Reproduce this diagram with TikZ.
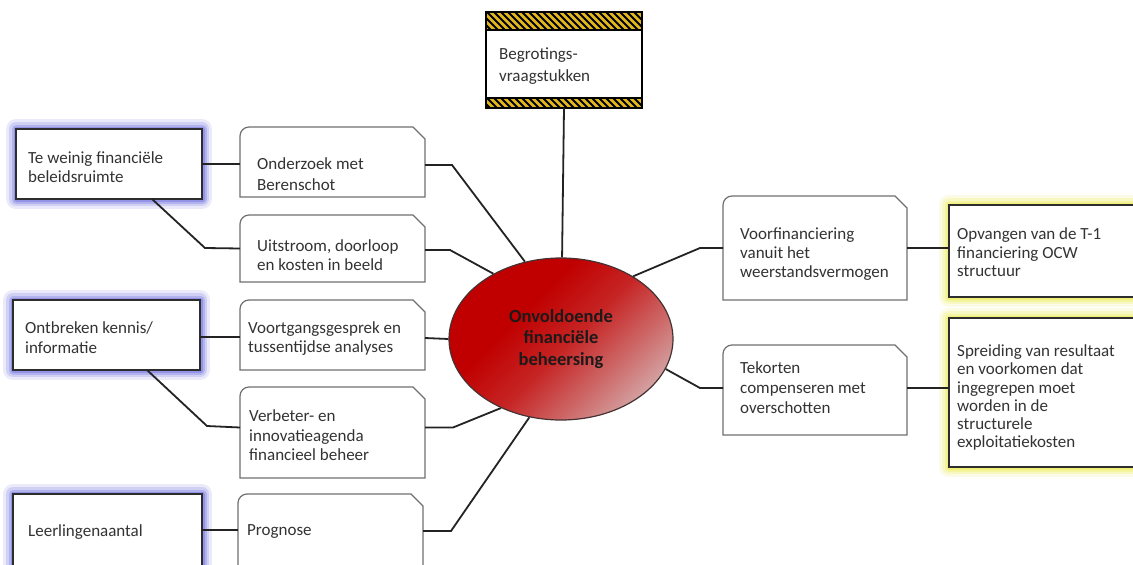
\documentclass[tikz,border=0pt]{standalone}
\usepackage{fontspec}
\setmainfont{Carlito}
\usetikzlibrary{shapes.geometric,calc}
\definecolor{txtc}{RGB}{51,51,51}
\definecolor{bordA}{RGB}{45,45,45}
\definecolor{docc}{RGB}{112,112,112}
\definecolor{connc}{RGB}{35,35,35}
\definecolor{glowB}{RGB}{90,90,220}
\definecolor{glowY}{RGB}{235,235,50}
\definecolor{hazy}{RGB}{226,182,30}
\definecolor{ellb}{RGB}{70,50,50}
\definecolor{ctxt}{RGB}{30,25,25}
\definecolor{rA}{RGB}{192,0,0}
\definecolor{rB}{RGB}{198,36,36}
\definecolor{rC}{RGB}{206,110,110}
\definecolor{rD}{RGB}{216,196,196}
\definecolor{rE}{RGB}{222,216,216}
\pgfdeclarehorizontalshading{ellred}{100bp}{color(0bp)=(rA); color(38bp)=(rA); color(52bp)=(rB); color(66bp)=(rC); color(82bp)=(rD); color(100bp)=(rE)}
\newcommand\fs{\rule{0pt}{12.5pt}}
\newcommand\docshape[1]{\draw[docline] (#1.south west) -- ([yshift=-9pt]#1.north west) arc[start angle=180,end angle=90,radius=9pt] -- ([xshift=-12pt]#1.north east) -- ([yshift=-12pt]#1.north east) -- (#1.south east) -- cycle;}
\tikzset{
  glow/.style={
    preaction={draw=#1, draw opacity=.12, line width=20pt, line join=round},
    preaction={draw=#1, draw opacity=.18, line width=14pt, line join=round},
    preaction={draw=#1, draw opacity=.25, line width=9pt, line join=round},
    preaction={draw=#1, draw opacity=.35, line width=5pt, line join=round}},
  box/.style={rectangle, inner sep=0pt, outer sep=0pt},
  bluebox/.style={box, draw=bordA, line width=1.3pt, fill=white, glow=glowB},
  yelbox/.style={box, draw=bordA, line width=1.2pt, fill=white, glow=glowY},
  docline/.style={draw=docc, line width=1.2pt, fill=white},
  txt/.style={font=\fontsize{17}{#1}\selectfont, align=left, inner sep=0pt, text=txtc, anchor=north west},
  txt/.default=18.5,
  conn/.style={draw=connc, line width=1.8pt},
}
\begin{document}
\begin{tikzpicture}[x=1pt,y=-1pt]
\useasboundingbox (0,0) rectangle (1133,565);
\fill[white] (0,0) rectangle (1133,565);

% top box with hazard bands
\node[box, draw=black, line width=1.3pt, fill=white, minimum width=156pt, minimum height=96pt] (t) at (564,60) {};
\begin{scope}
  \clip (t.north west) rectangle ([yshift=-18pt]t.north east);
  \fill[hazy] (t.north west) rectangle ([yshift=-18pt]t.north east);
  \foreach \k in {0,...,27} \draw[black, line width=1.9pt] ($(t.north west)+(\k*7-20,0)$) -- ++(18,18);
\end{scope}
\begin{scope}
  \clip ([yshift=10pt]t.south west) rectangle (t.south east);
  \fill[hazy] ([yshift=10pt]t.south west) rectangle (t.south east);
  \foreach \k in {0,...,27} \draw[black, line width=1.9pt] ($(t.south west)+(\k*7-20,-10)$) -- ++(10,10);
\end{scope}
\draw[black, line width=1.3pt] (t.north west) rectangle (t.south east);
\draw[black, line width=1.1pt] ([yshift=-18pt]t.north west) -- ([yshift=-18pt]t.north east);
\draw[black, line width=1.1pt] ([yshift=10pt]t.south west) -- ([yshift=10pt]t.south east);
\node[txt={22}] (tt) at (499,46.5) {\fs Begrotings-\\vraagstukken};

% centre ellipse
\node[ellipse, minimum width=224pt, minimum height=162pt, inner sep=0pt, draw=ellb, line width=1.2pt,
      shade, shading=ellred, shading angle=-45, align=center, text=ctxt,
      font=\bfseries\fontsize{18.5}{21.7}\selectfont] (c) at (561,339) {Onvoldoende\\financiële\\beheersing};

% left blue boxes
\node[bluebox, minimum width=186pt, minimum height=70pt] (b1) at (109,164) {};
\node[txt={18.3}] (b1t) at (28,151) {\fs Te weinig financiële\\beleidsruimte};
\node[bluebox, minimum width=187pt, minimum height=70pt] (b2) at (106.5,335) {};
\node[txt={20}] (b2t) at (25,321) {\fs Ontbreken kennis/\\informatie};
\node[bluebox, minimum width=189pt, minimum height=80pt] (b3) at (107.5,534) {};
\node[txt] (b3t) at (28,524) {\fs Leerlingenaantal};

% document boxes left
\node[box, minimum width=185pt, minimum height=70pt] (d1) at (332.5,162) {};
\docshape{d1}
\node[txt={20.7}] (d1t) at (257,157) {\fs Onderzoek met\\Berenschot};
\node[box, minimum width=185pt, minimum height=67pt] (d2) at (332.5,248.5) {};
\docshape{d2}
\node[txt={18.3}] (d2t) at (257,239) {\fs Uitstroom, doorloop\\en kosten in beeld};
\node[box, minimum width=185pt, minimum height=70pt] (d3) at (332.5,335) {};
\docshape{d3}
\node[txt={18.5}] (d3t) at (248,321) {\fs Voortgangsgesprek en\\tussentijdse analyses};
\node[box, minimum width=185pt, minimum height=91pt] (d4) at (332.5,432.5) {};
\docshape{d4}
\node[txt={19.5}] (d4t) at (249,409) {\fs Verbeter- en\\innovatieagenda\\financieel beheer};
\node[box, minimum width=185pt, minimum height=80pt] (d5) at (330.5,534) {};
\docshape{d5}
\node[txt] (d5t) at (247,523) {\fs Prognose};

% document boxes right
\node[box, minimum width=184pt, minimum height=104pt] (d6) at (815,248) {};
\docshape{d6}
\node[txt={19}] (d6t) at (740,227) {\fs Voorfinanciering\\vanuit het\\weerstandsvermogen};
\node[box, minimum width=184pt, minimum height=90pt] (d7) at (815,390) {};
\docshape{d7}
\node[txt={20}] (d7t) at (740,361) {\fs Tekorten\\compenseren met\\overschotten};

% right yellow boxes
\node[yelbox, minimum width=193pt, minimum height=92pt] (y1) at (1045.5,251) {};
\node[txt={18.5}] (y1t) at (957,227) {\fs Opvangen van de T-1\\financiering OCW\\structuur};
\node[yelbox, minimum width=193pt, minimum height=149pt] (y2) at (1045.5,392.5) {};
\node[txt={18.2}] (y2t) at (957,344) {\fs Spreiding van resultaat\\en voorkomen dat\\ingegrepen moet\\worden in de\\structurele\\exploitatiekosten};

% connectors
\draw[conn] (t.south) -- (c);
\draw[conn] (b1.east) -- (b1.east -| d1.west);
\draw[conn] ([xshift=-50pt]b1.south east) -- ++(53,49) -- (d2.west);
\draw[conn] ([yshift=-3pt]d1.east) -- ++(27,0) -- (c.115);
\draw[conn] ([yshift=-1.5pt]d2.east) -- ++(25,0) -- (c.136);
\draw[conn] ([yshift=-3pt]d3.east) -- (c.west);
\draw[conn] ([yshift=5pt]d4.east) -- ++(28,0) -- (c.229);
\draw[conn] ([yshift=3pt]d5.east) -- ++(28,0) -- (c.248);
\draw[conn] ([yshift=-2pt]b2.east) -- ([yshift=-2pt]b2.east -| d3.west);
\draw[conn] ([xshift=-53pt]b2.south east) -- ++(60,56) -- ([yshift=5pt]d4.west);
\draw[conn] ([yshift=4pt]b3.east) -- ([yshift=4pt]b3.east -| d5.west);
\draw[conn] (c.41) -- ([xshift=-23pt]d6.west) -- (d6.west);
\draw[conn] (c.344) -- ([xshift=-23pt,yshift=2pt]d7.west) -- ([yshift=2pt]d7.west);
\draw[conn] (d6.east) -- (d6.east -| y1.west);
\draw[conn] ([yshift=2pt]d7.east) -- ([yshift=2pt]d7.east -| y2.west);
\end{tikzpicture}
\end{document}
